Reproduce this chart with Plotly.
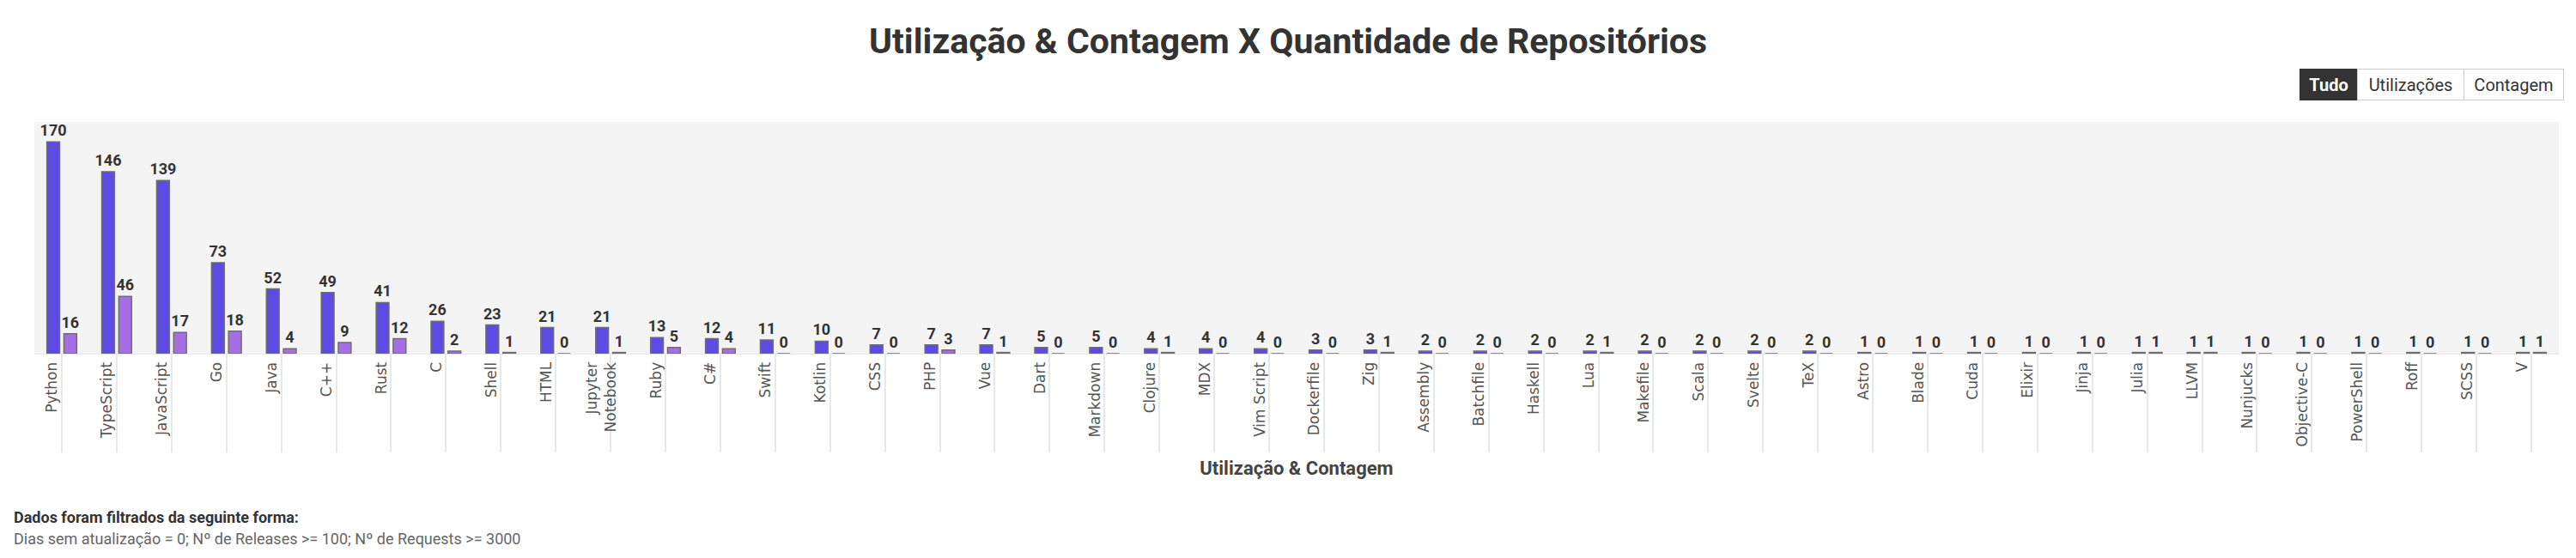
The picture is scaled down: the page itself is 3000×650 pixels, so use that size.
import plotly.graph_objects as go

languages = ["Python", "TypeScript", "JavaScript", "Go", "Java", "C++", "Rust", "C", "Shell", "HTML",
             "Jupyter<br>Notebook", "Ruby", "C#", "Swift", "Kotlin", "CSS", "PHP", "Vue", "Dart", "Markdown",
             "Clojure", "MDX", "Vim Script", "Dockerfile", "Zig", "Assembly", "Batchfile", "Haskell", "Lua",
             "Makefile", "Scala", "Svelte", "TeX", "Astro", "Blade", "Cuda", "Elixir", "Jinja", "Julia", "LLVM",
             "Nunjucks", "Objective-C", "PowerShell", "Roff", "SCSS", "V"]
utilizacoes = [170, 146, 139, 73, 52, 49, 41, 26, 23, 21,
               21, 13, 12, 11, 10, 7, 7, 7, 5, 5,
               4, 4, 4, 3, 3, 2, 2, 2, 2,
               2, 2, 2, 2, 1, 1, 1, 1, 1, 1, 1,
               1, 1, 1, 1, 1, 1]
contagem = [16, 46, 17, 18, 4, 9, 12, 2, 1, 0,
            1, 5, 4, 0, 0, 0, 3, 1, 0, 0,
            1, 0, 0, 0, 1, 0, 0, 0, 1,
            0, 0, 0, 0, 0, 0, 0, 0, 0, 1, 1,
            0, 0, 0, 0, 0, 1]

title_text = "Utilização & Contagem X Quantidade de Repositórios"
axis_title = "Utilização & Contagem"
note_title = "Dados foram filtrados da seguinte forma:"
note_body = "Dias sem atualização = 0; Nº de Releases >= 100; Nº de Requests >= 3000"
button_labels = ["Tudo", "Utilizações", "Contagem"]

COLOR_UTIL = "#5e4be6"
COLOR_CONT = "#a66ee6"
LINE = dict(color="#6e6e6e", width=1.5)
TEXTFONT = dict(family="Roboto", size=18, color="#333333", weight="bold")

fig = go.Figure()
fig.add_trace(go.Bar(name="Utilizações", x=languages, y=utilizacoes, marker=dict(color=COLOR_UTIL, line=LINE),
                     text=utilizacoes, textposition="outside", textfont=TEXTFONT, cliponaxis=False,
                     constraintext="none"))
fig.add_trace(go.Bar(name="Contagem", x=languages, y=contagem, marker=dict(color=COLOR_CONT, line=LINE),
                     text=contagem, textposition="outside", textfont=TEXTFONT, cliponaxis=False,
                     constraintext="none"))

# page body has an 8px margin: lay out in screen coordinates minus that offset
OFF = 8
W, H = 3000 - OFF, 650 - OFF
L, T = 40 - OFF, 142 - OFF
R = W - (2980 - OFF)
B = H - (412 - OFF)
pw = W - L - R
ph = H - T - B

def px_x(sx):
    return (sx - OFF - L) / pw

def px_y(sy):
    return (H - B - (sy - OFF)) / ph

annotations = []
# buttons (visual)
btns = [(2678, 2745), (2745, 2869), (2869, 2985)]
for i, (lab, (x0, x1)) in enumerate(zip(button_labels, btns)):
    active = i == 0
    annotations.append(dict(
        text=f"<b>{lab}</b>" if active else lab, xref="paper", yref="paper",
        x=px_x(x0), y=px_y(98.5), xanchor="left", yanchor="middle", showarrow=False,
        width=x1 - x0 - 1, height=35, borderpad=0, borderwidth=1,
        bordercolor="#333333" if active else "#cccccc",
        bgcolor="#333333" if active else "#ffffff",
        font=dict(family="Roboto", size=20, color="#ffffff" if active else "#333333"),
        align="center"))
annotations.append(dict(text=f"<b>{note_title}</b>", xref="paper", yref="paper", x=px_x(14), y=px_y(602),
                        xanchor="left", yanchor="middle", showarrow=False,
                        font=dict(family="Roboto", size=18, color="#333333")))
annotations.append(dict(text=note_body, xref="paper", yref="paper", x=px_x(14), y=px_y(627),
                        xanchor="left", yanchor="middle", showarrow=False,
                        font=dict(family="Roboto", size=18, color="#666666")))

fig.update_layout(
    width=W, height=H,
    margin=dict(l=L, r=R, t=T, b=B, autoexpand=False),
    paper_bgcolor="white", plot_bgcolor="#f4f4f4",
    barmode="group", bargap=0.38, bargroupgap=0.25,
    showlegend=False,
    title=dict(text=f"<b>{title_text}</b>", x=(1500 - OFF) / W, xanchor="center", xref="container",
               y=1 - (48 - OFF) / H, yanchor="middle", yref="container",
               font=dict(family="Roboto", size=41, color="#333333")),
    annotations=annotations,
)
fig.update_xaxes(
    type="category", tickangle=-90,
    ticks="outside", ticklen=114, tickwidth=1.5, tickcolor="#e8e8e8",
    ticklabelstandoff=-112, ticklabelshift=-11,
    tickfont=dict(family="DejaVu Sans", size=17, color="#555555"),
    showgrid=False, showline=True, linecolor="#e6e6e6", linewidth=1,
    title=dict(text=f"<b>{axis_title}</b>", font=dict(family="Roboto", size=22, color="#444444"), standoff=18),
    automargin=False,
)
fig.update_yaxes(range=[0, 186], showticklabels=False, showgrid=False, zeroline=False, automargin=False)

fig.write_html("out.html")
